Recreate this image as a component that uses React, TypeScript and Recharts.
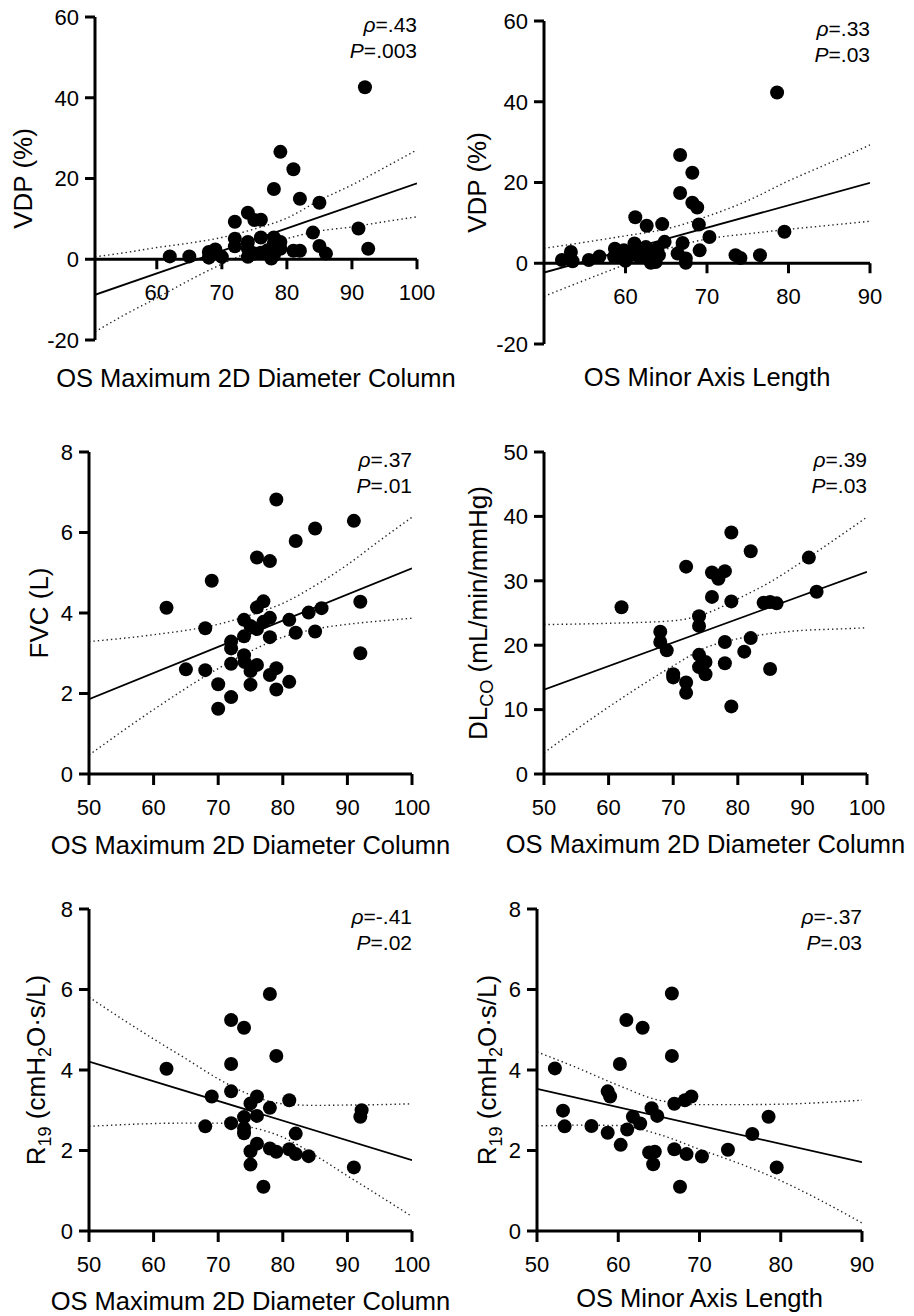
import React from "react";
import { ComposedChart, Scatter, Line, XAxis, YAxis, ReferenceLine, ReferenceDot } from "recharts";

const FONT = "'Liberation Sans', Arial, Helvetica, sans-serif";

// ---- values: [x, y] ----

// VDP vs OS Maximum 2D Diameter Column
const vdpDiamPoints = [
  [62, 0.7], [65, 0.7], [68, 1.8], [68, 0.4], [69, 2.4], [70, 0.6], [72, 9.3], [72, 5.1], [72, 3.2],
  [74, 11.5], [74, 4.3], [74, 2.6], [74, 0.6], [75, 9.7], [75, 1.4], [76, 9.8], [76, 5.4], [76, 1.6],
  [77, 2.2], [77.6, 0.2], [78, 17.4], [78, 5.4], [78, 3.9], [78, 1.0], [79, 26.6], [79, 4.3], [79, 2.6],
  [81, 22.3], [81, 2.1], [82, 15.0], [82, 2.1], [84, 6.6], [85, 14.0], [85, 3.3], [86, 1.4], [91, 7.6],
  [92, 42.6], [92.5, 2.6],
];
const vdpDiamFit = [[50.5, -8.8], [100, 18.8]];
const vdpDiamUpper = [[50.5, 0.6], [55, 1.6], [60, 2.9], [65, 4.0], [70, 5.4], [75, 7.5], [80, 10.2], [85, 14.6], [90, 18.4], [95, 22.7], [100, 27.1]];
const vdpDiamLower = [[50.5, -18], [55, -13.8], [60, -9.6], [65, -5.2], [70, -1.2], [75, 2.3], [80, 5.1], [85, 7.0], [90, 8.0], [95, 9.3], [100, 10.5]];

// VDP vs OS Minor Axis Length
const vdpMinorPoints = [
  [52.2, 0.8], [53.3, 2.8], [53.5, 0.5], [55.5, 0.8], [56.8, 1.7], [58.7, 3.6], [58.6, 1.6], [59.2, 2.0],
  [59.8, 3.2], [60, 0.6], [61.1, 4.9], [61.2, 11.4], [61.7, 3.6], [62.5, 4.0], [60.7, 2.0], [61.7, 1.6],
  [62.6, 9.3], [62.9, 1.6], [63.1, 0.1], [63.7, 0.3], [63.9, 3.6], [64.5, 9.7], [64.8, 5.3], [64.1, 2.0],
  [66.7, 26.8], [66.7, 17.4], [67, 5.0], [66.4, 2.4], [67.4, 1.2], [67.4, 0.1], [68.2, 22.4], [68.2, 15.0],
  [68.8, 13.8], [69, 9.6], [69.1, 3.2], [70.3, 6.5], [73.5, 2.0], [74.1, 1.3], [76.5, 2.0], [78.6, 42.3],
  [79.5, 7.8],
];
const vdpMinorFit = [[50, -2.3], [90, 19.9]];
const vdpMinorUpper = [[50, 3.7], [55, 5.2], [60, 6.8], [65, 8.5], [70, 11.6], [75, 15.5], [80, 20.4], [85, 24.8], [90, 29.3]];
const vdpMinorLower = [[50, -8.2], [55, -4.2], [60, -0.3], [65, 3.5], [70, 6.0], [75, 7.3], [80, 8.4], [85, 9.4], [90, 10.4]];

// FVC vs OS Maximum 2D Diameter Column
const fvcPoints = [
  [62, 4.13], [65, 2.6], [68, 3.62], [68, 2.58], [69, 4.8], [70, 2.23], [70, 1.62], [72, 3.29], [72, 3.12],
  [72, 2.74], [72, 1.91], [74, 3.83], [74, 3.42], [74, 2.95], [74.1, 2.78], [75, 3.68], [75, 2.56], [75, 2.22],
  [76, 5.38], [76, 4.14], [76, 3.6], [76, 2.71], [77, 4.29], [77, 3.78], [78, 5.29], [78, 3.88], [78, 3.4],
  [78, 2.46], [79, 6.82], [79, 2.63], [79, 2.1], [81, 3.83], [81, 2.29], [82, 5.79], [82, 3.51], [84, 4.01],
  [85, 6.1], [85, 3.54], [86, 4.12], [91, 6.29], [92, 4.28], [92, 3.0],
];
const fvcFit = [[50, 1.86], [100, 5.11]];
const fvcUpper = [[50, 3.29], [60, 3.46], [70, 3.72], [75, 3.95], [80, 4.24], [85, 4.68], [90, 5.2], [95, 5.8], [100, 6.38]];
const fvcLower = [[50, 0.47], [60, 1.6], [70, 2.62], [75, 3.05], [80, 3.4], [85, 3.6], [90, 3.72], [95, 3.8], [100, 3.87]];

// DLCO vs OS Maximum 2D Diameter Column
const dlcoPoints = [
  [62, 25.9], [68, 22.1], [68, 20.5], [69, 19.2], [70, 15.5], [70, 15.0], [72, 32.2], [72, 14.2], [72, 12.6],
  [74, 24.5], [74, 23.0], [74, 18.5], [74, 16.6], [75, 17.4], [75, 15.5], [76, 31.3], [76, 27.5], [77, 30.3],
  [78, 31.5], [78, 20.5], [78, 17.2], [79, 37.5], [79, 26.8], [79, 10.5], [81, 19.0], [82, 34.6], [82, 21.1],
  [84, 26.6], [85, 26.7], [86, 26.5], [85, 16.3], [91, 33.6], [92.2, 28.3],
];
const dlcoFit = [[50, 13.1], [100, 31.4]];
const dlcoUpper = [[50, 23.2], [60, 23.4], [70, 23.8], [75, 24.9], [80, 27.2], [85, 29.8], [90, 33.0], [95, 36.4], [100, 39.9]];
const dlcoLower = [[50, 3.3], [60, 10.4], [70, 16.8], [75, 19.6], [80, 21.0], [85, 21.8], [90, 22.3], [95, 22.5], [100, 22.7]];

// R19 vs OS Maximum 2D Diameter Column
const r19DiamPoints = [
  [62, 4.03], [68, 2.6], [69, 3.34], [72, 5.24], [72, 4.15], [72, 3.47], [72, 2.68], [74, 5.05], [74, 2.83],
  [74, 2.55], [74, 2.43], [75, 3.17], [75, 1.98], [75, 1.65], [76, 3.34], [76, 2.86], [76, 2.17], [77, 1.1],
  [78, 5.89], [78, 3.06], [78, 2.05], [79, 4.35], [79, 1.97], [81, 3.25], [81, 2.03], [82, 2.42], [82, 1.91],
  [84, 1.86], [91, 1.58], [92, 2.84], [92.2, 3.0],
];
const r19DiamFit = [[50, 4.21], [100, 1.76]];
const r19DiamUpper = [[50, 5.81], [55, 5.28], [60, 4.77], [65, 4.28], [70, 3.78], [75, 3.38], [80, 3.16], [85, 3.12], [90, 3.13], [95, 3.14], [100, 3.16]];
const r19DiamLower = [[50, 2.6], [55, 2.64], [60, 2.67], [65, 2.68], [70, 2.68], [75, 2.58], [80, 2.33], [85, 1.88], [90, 1.37], [95, 0.87], [100, 0.36]];

// R19 vs OS Minor Axis Length
const r19MinorPoints = [
  [52.2, 4.04], [53.2, 2.99], [53.4, 2.6], [56.7, 2.61], [58.7, 3.47], [59, 3.34], [58.7, 2.44], [60.2, 4.15],
  [60.3, 2.14], [61, 5.24], [61.1, 2.52], [61.8, 2.84], [62.7, 2.67], [63, 5.05], [63.8, 1.95], [64.5, 1.97],
  [64.3, 1.66], [64.1, 3.05], [64.8, 2.86], [66.6, 5.9], [66.6, 4.35], [66.9, 3.16], [66.9, 2.03], [67.6, 1.1],
  [68.2, 3.25], [68.4, 1.91], [69, 3.34], [70.3, 1.85], [73.5, 2.02], [76.5, 2.41], [78.5, 2.84], [79.5, 1.58],
];
const r19MinorFit = [[50, 3.53], [90, 1.71]];
const r19MinorUpper = [[50, 4.45], [55, 4.05], [60, 3.62], [65, 3.25], [70, 3.14], [75, 3.14], [80, 3.15], [85, 3.19], [90, 3.25]];
const r19MinorLower = [[50, 2.61], [55, 2.63], [60, 2.62], [65, 2.4], [70, 2.03], [75, 1.67], [80, 1.25], [85, 0.75], [90, 0.2]];

const diamTicks = [50, 60, 70, 80, 90, 100];
const diamTicksZero = [60, 70, 80, 90, 100];
const minorTicks = [50, 60, 70, 80, 90];
const minorTicksZero = [60, 70, 80, 90];
const vdpTicks = [-20, 0, 20, 40, 60];
const liters8Ticks = [0, 2, 4, 6, 8];
const dlcoTicks = [0, 10, 20, 30, 40, 50];

const toXY = (arr: number[][]) => arr.map(([x, y]) => ({ x, y }));

const axisStroke = { stroke: "#000", strokeWidth: 3 };
const tickFont = { fill: "#000", fontSize: 22, fontFamily: FONT };

type Part = { t: string; sub?: boolean };

const vdpTitle: Part[] = [{ t: "VDP (%)" }];
const fvcTitle: Part[] = [{ t: "FVC (L)" }];
const dlcoTitle: Part[] = [{ t: "DL" }, { t: "CO", sub: true }, { t: " (mL/min/mmHg)" }];
const r19Title: Part[] = [{ t: "R" }, { t: "19", sub: true }, { t: " (cmH" }, { t: "2", sub: true }, { t: "O·s/L)" }];

const DotShape = (p: any) => <circle cx={p.cx} cy={p.cy} r={7} fill="#000" />;

const box = (lp: any) => lp?.viewBox || { x: 0, y: 0, width: 0, height: 0 };

type PanelProps = {
  left: number;
  top: number;
  width: number;
  height: number;
  margin: { top: number; right: number; bottom: number; left: number };
  yWidth: number;
  xHeight: number;
  xDomain: [number, number];
  xTicks: number[];
  yDomain: [number, number];
  yTicks: number[];
  zeroAxis?: boolean;
  yTitle: Part[];
  yTitleX: number;
  xTitle: string;
  xTitleDy: number;
  rho: string;
  pval: string;
  points: number[][];
  fit: number[][];
  upper: number[][];
  lower: number[][];
};

function Panel(props: PanelProps) {
  const { xDomain, yDomain, xTicks, zeroAxis } = props;
  const tickDrop = (yDomain[1] - yDomain[0]) * 10 / (props.height - props.margin.top - props.margin.bottom - props.xHeight);

  const yTitleContent = (lp: any) => {
    const vb = box(lp);
    const cy = vb.y + vb.height / 2;
    return (
      <text transform={`translate(${props.yTitleX},${cy}) rotate(-90)`} textAnchor="middle" fontFamily={FONT} fontSize={26} fill="#000">
        {props.yTitle.map((p, i) => {
          const prevSub = i > 0 && props.yTitle[i - 1].sub;
          const dy = p.sub ? 6 : prevSub ? -6 : 0;
          return (
            <tspan key={i} dy={dy} fontSize={p.sub ? 18 : 26}>
              {p.t}
            </tspan>
          );
        })}
      </text>
    );
  };

  const xTitleContent = (lp: any) => {
    const vb = box(lp);
    return (
      <text x={vb.x + vb.width / 2} y={vb.y + props.xTitleDy} textAnchor="middle" fontFamily={FONT} fontSize={25.5} fill="#000">
        {props.xTitle}
      </text>
    );
  };

  const annotation = (lp: any) => {
    const vb = box(lp);
    return (
      <g fontFamily={FONT} fontSize={21} fill="#000">
        <text x={vb.x} y={vb.y + 15} textAnchor="end">
          <tspan fontStyle="italic">ρ</tspan>={props.rho}
        </text>
        <text x={vb.x} y={vb.y + 41} textAnchor="end">
          <tspan fontStyle="italic">P</tspan>={props.pval}
        </text>
      </g>
    );
  };

  const zeroTickLabel = (v: number) => (lp: any) => {
    const vb = box(lp);
    return (
      <text x={vb.x} y={vb.y + 41} textAnchor="middle" fontFamily={FONT} fontSize={22} fill="#000">
        {v}
      </text>
    );
  };

  return (
    <div style={{ position: "absolute", left: props.left, top: props.top }}>
      <ComposedChart width={props.width} height={props.height} margin={props.margin}>
        <XAxis
          type="number"
          dataKey="x"
          domain={xDomain}
          ticks={zeroAxis ? [] : xTicks}
          allowDataOverflow
          height={props.xHeight}
          axisLine={zeroAxis ? false : axisStroke}
          tickLine={zeroAxis ? false : axisStroke}
          tick={zeroAxis ? false : tickFont}
          tickSize={11}
          tickMargin={14}
          interval={0}
          label={{ content: xTitleContent }}
        />
        <YAxis
          type="number"
          dataKey="y"
          domain={yDomain}
          ticks={props.yTicks}
          allowDataOverflow
          width={props.yWidth}
          axisLine={axisStroke}
          tickLine={axisStroke}
          tick={tickFont}
          tickSize={10}
          tickMargin={6}
          interval={0}
          label={{ content: yTitleContent }}
        />
        {zeroAxis && <ReferenceLine y={0} stroke="#000" strokeWidth={3} />}
        {zeroAxis &&
          xTicks.map((v) => (
            <ReferenceLine
              key={`t${v}`}
              segment={[
                { x: v, y: 0 },
                { x: v, y: -tickDrop },
              ]}
              stroke="#000"
              strokeWidth={3}
            />
          ))}
        {zeroAxis &&
          xTicks.map((v) => (
            <ReferenceDot key={`l${v}`} x={v} y={0} r={0} fill="none" stroke="none" label={{ content: zeroTickLabel(v) }} />
          ))}
        <Line data={toXY(props.upper)} dataKey="y" type="monotone" stroke="#222" strokeWidth={1.4} strokeDasharray="1.4 3" dot={false} activeDot={false} isAnimationActive={false} />
        <Line data={toXY(props.lower)} dataKey="y" type="monotone" stroke="#222" strokeWidth={1.4} strokeDasharray="1.4 3" dot={false} activeDot={false} isAnimationActive={false} />
        <Line data={toXY(props.fit)} dataKey="y" type="linear" stroke="#000" strokeWidth={1.8} dot={false} activeDot={false} isAnimationActive={false} />
        <Scatter data={toXY(props.points)} dataKey="y" fill="#000" shape={DotShape} isAnimationActive={false} />
        <ReferenceDot x={xDomain[1]} y={yDomain[1]} r={0} fill="none" stroke="none" label={{ content: annotation }} />
      </ComposedChart>
    </div>
  );
}

export default function App() {
  return (
    <div style={{ position: "absolute", left: 0, top: 0, width: 914, height: 1316, background: "#fff" }}>
      <Panel
        left={0} top={0} width={462} height={400}
        margin={{ top: 17, right: 45, bottom: 10, left: 0 }}
        yWidth={95} xHeight={50}
        xDomain={[50.5, 100]} xTicks={diamTicksZero}
        yDomain={[-20, 60]} yTicks={vdpTicks}
        zeroAxis
        yTitle={vdpTitle} yTitleX={32}
        xTitle="OS Maximum 2D Diameter Column" xTitleDy={47}
        rho=".43" pval=".003"
        points={vdpDiamPoints} fit={vdpDiamFit} upper={vdpDiamUpper} lower={vdpDiamLower}
      />
      <Panel
        left={457} top={0} width={457} height={400}
        margin={{ top: 21, right: 44, bottom: 6, left: 0 }}
        yWidth={87} xHeight={50}
        xDomain={[50, 90]} xTicks={minorTicksZero}
        yDomain={[-20, 60]} yTicks={vdpTicks}
        zeroAxis
        yTitle={vdpTitle} yTitleX={29}
        xTitle="OS Minor Axis Length" xTitleDy={42}
        rho=".33" pval=".03"
        points={vdpMinorPoints} fit={vdpMinorFit} upper={vdpMinorUpper} lower={vdpMinorLower}
      />
      <Panel
        left={0} top={430} width={462} height={440}
        margin={{ top: 22, right: 50, bottom: 6, left: 0 }}
        yWidth={89} xHeight={90}
        xDomain={[50, 100]} xTicks={diamTicks}
        yDomain={[0, 8]} yTicks={liters8Ticks}
        yTitle={fvcTitle} yTitleX={48}
        xTitle="OS Maximum 2D Diameter Column" xTitleDy={80}
        rho=".37" pval=".01"
        points={fvcPoints} fit={fvcFit} upper={fvcUpper} lower={fvcLower}
      />
      <Panel
        left={457} top={430} width={457} height={440}
        margin={{ top: 22, right: 47, bottom: 6, left: 0 }}
        yWidth={87} xHeight={90}
        xDomain={[50, 100]} xTicks={diamTicks}
        yDomain={[0, 50]} yTicks={dlcoTicks}
        yTitle={dlcoTitle} yTitleX={30}
        xTitle="OS Maximum 2D Diameter Column" xTitleDy={79}
        rho=".39" pval=".03"
        points={dlcoPoints} fit={dlcoFit} upper={dlcoUpper} lower={dlcoLower}
      />
      <Panel
        left={0} top={880} width={462} height={436}
        margin={{ top: 29, right: 50, bottom: 3, left: 0 }}
        yWidth={89} xHeight={82}
        xDomain={[50, 100]} xTicks={diamTicks}
        yDomain={[0, 8]} yTicks={liters8Ticks}
        yTitle={r19Title} yTitleX={45}
        xTitle="OS Maximum 2D Diameter Column" xTitleDy={79}
        rho="-.41" pval=".02"
        points={r19DiamPoints} fit={r19DiamFit} upper={r19DiamUpper} lower={r19DiamLower}
      />
      <Panel
        left={457} top={880} width={457} height={436}
        margin={{ top: 29, right: 52, bottom: 3, left: 0 }}
        yWidth={80} xHeight={82}
        xDomain={[50, 90]} xTicks={minorTicks}
        yDomain={[0, 8]} yTicks={liters8Ticks}
        yTitle={r19Title} yTitleX={39}
        xTitle="OS Minor Axis Length" xTitleDy={76}
        rho="-.37" pval=".03"
        points={r19MinorPoints} fit={r19MinorFit} upper={r19MinorUpper} lower={r19MinorLower}
      />
    </div>
  );
}
